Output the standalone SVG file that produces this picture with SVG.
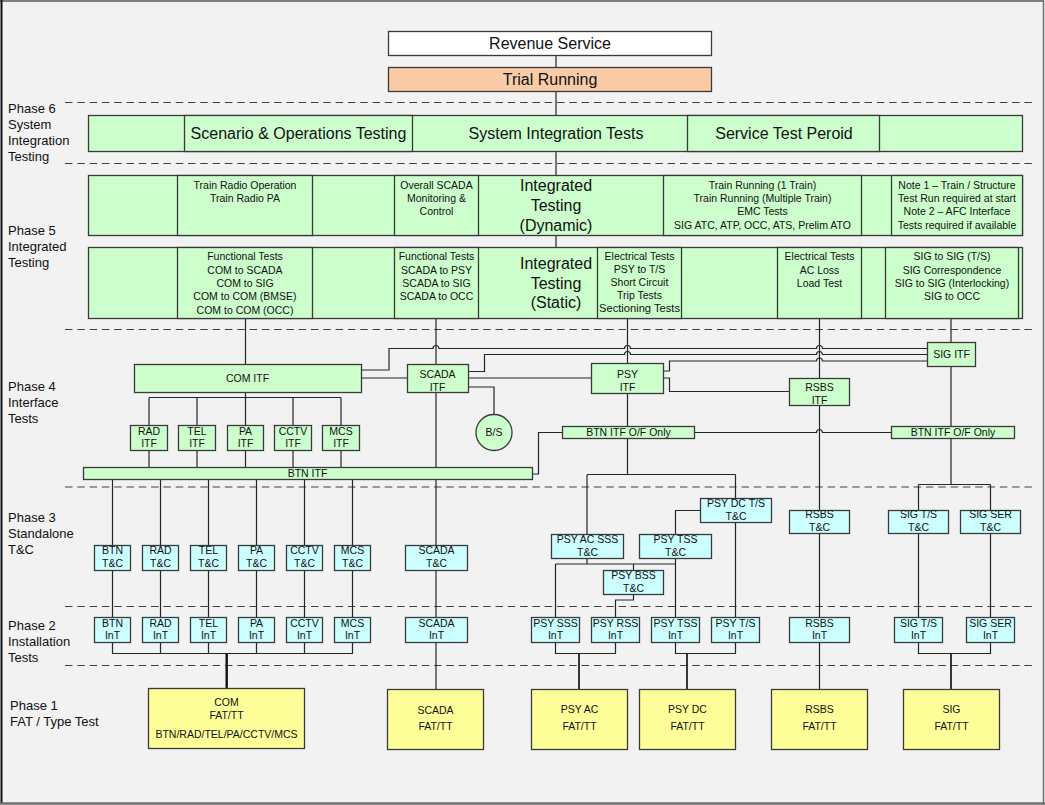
<svg xmlns="http://www.w3.org/2000/svg" width="1045" height="805" viewBox="0 0 1045 805">
<style>
.bg{fill:#f2f2f2}
.g{fill:#ccffcc;stroke:#3a3a3a;stroke-width:1.3}
.c{fill:#ccffff;stroke:#3a3a3a;stroke-width:1.3}
.y{fill:#ffff99;stroke:#3a3a3a;stroke-width:1.3}
.w{fill:#ffffff;stroke:#3a3a3a;stroke-width:1.3}
.o{fill:#f9cba6;stroke:#3a3a3a;stroke-width:1.3}
.ln{fill:none;stroke:#262626;stroke-width:1.2}
.tk{fill:none;stroke:#111;stroke-width:2.4}
.md{fill:none;stroke:#222;stroke-width:1.8}
.ds{fill:none;stroke:#404040;stroke-width:1.2;stroke-dasharray:7.5 4.8}
text{font-family:"Liberation Sans",Arial,sans-serif;fill:#111}
.s{font-size:10.5px;text-anchor:middle}
.l{font-size:16px;text-anchor:middle}
.p{font-size:13px}
</style>
<rect class="bg" x="0" y="0" width="1045" height="805"/>
<g id="frame">
<line x1="0" y1="1" x2="1044" y2="1" stroke="#7f7f7f" stroke-width="2"/>
<line x1="1.5" y1="0" x2="1.5" y2="804" stroke="#111" stroke-width="2"/>
<line x1="0" y1="803.5" x2="1045" y2="803.5" stroke="#6f6f6f" stroke-width="2.5"/>
<line x1="1043.5" y1="0" x2="1043.5" y2="805" stroke="#6f6f6f" stroke-width="1.5"/>
</g>
<g id="phase-labels" class="p">
<text x="8" y="112.5">Phase 6</text><text x="8" y="128.5">System</text><text x="8" y="144.5">Integration</text><text x="8" y="160.5">Testing</text>
<text x="8" y="235">Phase 5</text><text x="8" y="251">Integrated</text><text x="8" y="267">Testing</text>
<text x="8" y="391">Phase 4</text><text x="8" y="407">Interface</text><text x="8" y="422.5">Tests</text>
<text x="8" y="522">Phase 3</text><text x="8" y="538">Standalone</text><text x="8" y="554">T&amp;C</text>
<text x="8" y="630">Phase 2</text><text x="8" y="646">Installation</text><text x="8" y="662">Tests</text>
<text x="10" y="710">Phase 1</text><text x="10" y="726">FAT / Type Test</text>
</g>
<g id="dividers">
<line class="ds" x1="65" y1="102.5" x2="1033" y2="102.5"/>
<line class="ds" x1="65" y1="163.5" x2="1033" y2="163.5"/>
<line class="ds" x1="65" y1="329.5" x2="1033" y2="329.5"/>
<line class="ds" x1="65" y1="487" x2="1033" y2="487"/>
<line class="ds" x1="65" y1="606.5" x2="1033" y2="606.5"/>
<line class="ds" x1="65" y1="665.5" x2="1033" y2="665.5"/>
</g>
<g id="connectors">
<path class="ln" d="M556 55.5V67.5M556 91.5V115.5M556 151.5V175.5M556 235.5V247.5"/>
<path class="ln" d="M245.5 318.5V364.5M436 318.5V364.5M436 392.5V467.5M436 479.5V545.5M436 570.5V617.5M436 642.5V689.5"/>
<path class="ln" d="M627.5 318.5V363.5M627.5 393.5V426.5M627.5 438.5V474.5M587 474.5H735.5M587 474.5V534.5M735.5 474.5V498.5"/>
<path class="ln" d="M819.5 318.5V378.5M819.5 405.5V510.5M819.5 533.5V617.5M819.5 642.5V689.5"/>
<path class="ln" d="M951 318.5V342.5M951 366.5V426.5M951 438.5V484.5M918.5 484.5H990.5M918.5 484.5V510.5M990.5 484.5V510.5M918.5 533.5V617.5M990.5 533.5V617.5M918.5 642.5V653.5H990.5V642.5"/>
<path class="md" d="M951 653.5V689.5"/>
<path class="ln" d="M245.5 392.5V397.5M149 397.5H341M149 397.5V425.5M197 397.5V425.5M245.5 397.5V425.5M293 397.5V425.5M341 397.5V425.5"/>
<path class="ln" d="M149 450.5V467.5M197 450.5V467.5M245.5 450.5V467.5M293 450.5V467.5M341 450.5V467.5"/>
<path class="ln" d="M112.5 479.5V545.5M160.5 479.5V545.5M208.5 479.5V545.5M256.5 479.5V545.5M304.5 479.5V545.5M352.5 479.5V545.5"/>
<path class="ln" d="M112.5 570.5V617.5M160.5 570.5V617.5M208.5 570.5V617.5M256.5 570.5V617.5M304.5 570.5V617.5M352.5 570.5V617.5"/>
<path class="ln" d="M112.5 642.5V653.5H352.5V642.5M160.5 642.5V653.5M208.5 642.5V653.5M256.5 642.5V653.5M304.5 642.5V653.5"/>
<path class="tk" d="M226.7 653.5V688.5"/>
<path class="ln" d="M700.5 510.5H675.5V534.5M735.5 522.5V617.5M587 558.5V564M555.5 564H675.5M675.5 558.5V617.5M555.5 564V617.5M633.5 564V570.5M633.5 594.5V600H615.5V617.5"/>
<path class="ln" d="M555.5 642.5V653.5H615.5V642.5M675.5 642.5V653.5H735.5V642.5"/>
<path class="md" d="M579 653.5V689.5M687 653.5V689.5"/>
<path class="ln" d="M361.5 370H389V348.5H433a3 3 0 0 1 6 0H624.5a3 3 0 0 1 6 0H816.5a3 3 0 0 1 6 0H927.5"/>
<path class="ln" d="M468.5 371.5H484.5V354.5H624.5a3 3 0 0 1 6 0H816.5a3 3 0 0 1 6 0H927.5"/>
<path class="ln" d="M663.5 371H669.5V361H816.5a3 3 0 0 1 6 0H927.5"/>
<path class="ln" d="M361.5 378H407.5M468.5 378H591.5M663.5 378H669.5V391.5H789.5"/>
<path class="ln" d="M468.5 387H494V414.5"/>
<path class="ln" d="M532.5 474H538.5V432.5H562.5M694.5 432.5H816.5a3 3 0 0 1 6 0H891.5"/>
</g>
<g id="revenue-service"><rect class="w" x="388.5" y="31.5" width="323" height="24"/><text class="l" x="550" y="49">Revenue Service</text></g>
<g id="trial-running"><rect class="o" x="388.5" y="67.5" width="323" height="24"/><text class="l" x="550" y="85">Trial Running</text></g>
<g id="phase6">
<rect class="g" x="88.5" y="115.5" width="934" height="36"/>
<rect class="g" x="184.5" y="115.5" width="228" height="36"/>
<rect class="g" x="687.5" y="115.5" width="192" height="36"/>
<text class="l" x="298.5" y="139">Scenario &amp; Operations Testing</text>
<text class="l" x="556" y="139">System Integration Tests</text>
<text class="l" x="784" y="139">Service Test Peroid</text>
</g>
<g id="phase5-dynamic">
<rect class="g" x="88.5" y="175.5" width="934" height="60"/>
<rect class="g" x="177.5" y="175.5" width="135" height="60"/>
<rect class="g" x="394.5" y="175.5" width="84" height="60"/>
<rect class="g" x="663.5" y="175.5" width="198" height="60"/>
<rect class="g" x="891.5" y="175.5" width="131" height="60"/>
<text class="s" x="245" y="188.7">Train Radio Operation</text><text class="s" x="245" y="202">Train Radio PA</text>
<text class="s" x="436.5" y="188.7">Overall SCADA</text><text class="s" x="436.5" y="202">Monitoring &amp;</text><text class="s" x="436.5" y="215.3">Control</text>
<text class="l" x="556" y="190.5">Integrated</text><text class="l" x="556" y="210.5">Testing</text><text class="l" x="556" y="230.5">(Dynamic)</text>
<text class="s" x="762.5" y="188.7">Train Running (1 Train)</text><text class="s" x="762.5" y="202">Train Running (Multiple Train)</text><text class="s" x="762.5" y="215.3">EMC Tests</text><text class="s" x="762.5" y="228.6">SIG ATC, ATP, OCC, ATS, Prelim ATO</text>
<text class="s" x="957" y="188.7">Note 1 – Train / Structure</text><text class="s" x="957" y="202">Test Run required at start</text><text class="s" x="957" y="215.3">Note 2 – AFC Interface</text><text class="s" x="957" y="228.6">Tests required if available</text>
</g>
<g id="phase5-static">
<rect class="g" x="88.5" y="247.5" width="934" height="71"/>
<rect class="g" x="177.5" y="247.5" width="135" height="71"/>
<rect class="g" x="394.5" y="247.5" width="84" height="71"/>
<rect class="g" x="597.5" y="247.5" width="84" height="71"/>
<rect class="g" x="777.5" y="247.5" width="84" height="71"/>
<rect class="g" x="885.5" y="247.5" width="133" height="71"/>
<text class="s" x="245" y="260.4">Functional Tests</text><text class="s" x="245" y="273.7">COM to SCADA</text><text class="s" x="245" y="287">COM to SIG</text><text class="s" x="245" y="300.4">COM to COM (BMSE)</text><text class="s" x="245" y="313.7">COM to COM (OCC)</text>
<text class="s" x="436.5" y="260.4">Functional Tests</text><text class="s" x="436.5" y="273.7">SCADA to PSY</text><text class="s" x="436.5" y="287">SCADA to SIG</text><text class="s" x="436.5" y="300.4">SCADA to OCC</text>
<text class="l" x="556" y="269">Integrated</text><text class="l" x="556" y="289">Testing</text><text class="l" x="556" y="307.5">(Static)</text>
<text class="s" x="639.5" y="260.4">Electrical Tests</text><text class="s" x="639.5" y="273.4">PSY to T/S</text><text class="s" x="639.5" y="286.4">Short Circuit</text><text class="s" x="639.5" y="299.4">Trip Tests</text><text class="s" x="639.5" y="312.4" textLength="81" lengthAdjust="spacingAndGlyphs">Sectioning Tests</text>
<text class="s" x="819.5" y="260.4">Electrical Tests</text><text class="s" x="819.5" y="273.7">AC Loss</text><text class="s" x="819.5" y="287">Load Test</text>
<text class="s" x="952" y="260.4">SIG to SIG (T/S)</text><text class="s" x="952" y="273.7">SIG Correspondence</text><text class="s" x="952" y="287">SIG to SIG (Interlocking)</text><text class="s" x="952" y="300.4">SIG to OCC</text>
</g>
<g id="com-itf"><rect class="g" x="134.5" y="364.5" width="227" height="28"/><text class="s" x="247.5" y="382">COM ITF</text></g>
<g id="scada-itf"><rect class="g" x="407.5" y="364.5" width="61" height="28"/><text class="s" x="437.5" y="378">SCADA</text><text class="s" x="437.5" y="390.5">ITF</text></g>
<g id="psy-itf"><rect class="g" x="591.5" y="363.5" width="72" height="30"/><text class="s" x="627.5" y="378">PSY</text><text class="s" x="627.5" y="390.5">ITF</text></g>
<g id="rsbs-itf"><rect class="g" x="789.5" y="378.5" width="60" height="27"/><text class="s" x="819.5" y="391">RSBS</text><text class="s" x="819.5" y="403.7">ITF</text></g>
<g id="sig-itf"><rect class="g" x="927.5" y="342.5" width="48" height="24"/><text class="s" x="951.5" y="358">SIG ITF</text></g>
<g id="bs"><circle class="g" cx="494" cy="432.5" r="18"/><text class="s" x="494" y="436.2">B/S</text></g>
<g id="rad-itf"><rect class="g" x="130.5" y="425.5" width="37" height="25"/><text class="s" x="149" y="434.7">RAD</text><text class="s" x="149" y="447">ITF</text></g>
<g id="tel-itf"><rect class="g" x="178.5" y="425.5" width="37" height="25"/><text class="s" x="197" y="434.7">TEL</text><text class="s" x="197" y="447">ITF</text></g>
<g id="pa-itf"><rect class="g" x="227.5" y="425.5" width="36" height="25"/><text class="s" x="245.5" y="434.7">PA</text><text class="s" x="245.5" y="447">ITF</text></g>
<g id="cctv-itf"><rect class="g" x="274.5" y="425.5" width="37" height="25"/><text class="s" x="293" y="434.7">CCTV</text><text class="s" x="293" y="447">ITF</text></g>
<g id="mcs-itf"><rect class="g" x="322.5" y="425.5" width="37" height="25"/><text class="s" x="341" y="434.7">MCS</text><text class="s" x="341" y="447">ITF</text></g>
<g id="btn-itf"><rect class="g" x="83.5" y="467.5" width="449" height="12"/><text class="s" x="307.5" y="477.2">BTN ITF</text></g>
<g id="btn-itf-of-1"><rect class="g" x="562.5" y="426.5" width="132" height="12"/><text class="s" x="628.5" y="436.2">BTN ITF O/F Only</text></g>
<g id="btn-itf-of-2"><rect class="g" x="891.5" y="426.5" width="123" height="12"/><text class="s" x="953" y="436.2">BTN ITF O/F Only</text></g>
<g id="btn-tc"><rect class="c" x="94.5" y="545.5" width="36" height="25"/><text class="s" x="112.5" y="554">BTN</text><text class="s" x="112.5" y="566.5">T&amp;C</text></g>
<g id="rad-tc"><rect class="c" x="142.5" y="545.5" width="36" height="25"/><text class="s" x="160.5" y="554">RAD</text><text class="s" x="160.5" y="566.5">T&amp;C</text></g>
<g id="tel-tc"><rect class="c" x="190.5" y="545.5" width="36" height="25"/><text class="s" x="208.5" y="554">TEL</text><text class="s" x="208.5" y="566.5">T&amp;C</text></g>
<g id="pa-tc"><rect class="c" x="238.5" y="545.5" width="36" height="25"/><text class="s" x="256.5" y="554">PA</text><text class="s" x="256.5" y="566.5">T&amp;C</text></g>
<g id="cctv-tc"><rect class="c" x="286.5" y="545.5" width="36" height="25"/><text class="s" x="304.5" y="554">CCTV</text><text class="s" x="304.5" y="566.5">T&amp;C</text></g>
<g id="mcs-tc"><rect class="c" x="334.5" y="545.5" width="36" height="25"/><text class="s" x="352.5" y="554">MCS</text><text class="s" x="352.5" y="566.5">T&amp;C</text></g>
<g id="scada-tc"><rect class="c" x="405.5" y="545.5" width="62" height="25"/><text class="s" x="436.5" y="554">SCADA</text><text class="s" x="436.5" y="566.5">T&amp;C</text></g>
<g id="psy-dc-ts-tc"><rect class="c" x="700.5" y="498.5" width="71" height="24"/><text class="s" x="736" y="507">PSY DC T/S</text><text class="s" x="736" y="519.7">T&amp;C</text></g>
<g id="psy-ac-sss-tc"><rect class="c" x="551.5" y="534.5" width="72" height="24"/><text class="s" x="587.5" y="543">PSY AC SSS</text><text class="s" x="587.5" y="555.7">T&amp;C</text></g>
<g id="psy-tss-tc"><rect class="c" x="639.5" y="534.5" width="72" height="24"/><text class="s" x="675.5" y="543">PSY TSS</text><text class="s" x="675.5" y="555.7">T&amp;C</text></g>
<g id="psy-bss-tc"><rect class="c" x="603.5" y="570.5" width="60" height="24"/><text class="s" x="633.5" y="579.4">PSY BSS</text><text class="s" x="633.5" y="592">T&amp;C</text></g>
<g id="rsbs-tc"><rect class="c" x="789.5" y="510.5" width="60" height="23"/><text class="s" x="819.5" y="518.4">RSBS</text><text class="s" x="819.5" y="531">T&amp;C</text></g>
<g id="sig-ts-tc"><rect class="c" x="888.5" y="510.5" width="60" height="23"/><text class="s" x="918.5" y="518.4">SIG T/S</text><text class="s" x="918.5" y="531">T&amp;C</text></g>
<g id="sig-ser-tc"><rect class="c" x="960.5" y="510.5" width="60" height="23"/><text class="s" x="990.5" y="518.4">SIG SER</text><text class="s" x="990.5" y="531">T&amp;C</text></g>
<g id="btn-int"><rect class="c" x="94.5" y="617.5" width="36" height="25"/><text class="s" x="112.5" y="627">BTN</text><text class="s" x="112.5" y="639.4">InT</text></g>
<g id="rad-int"><rect class="c" x="142.5" y="617.5" width="36" height="25"/><text class="s" x="160.5" y="627">RAD</text><text class="s" x="160.5" y="639.4">InT</text></g>
<g id="tel-int"><rect class="c" x="190.5" y="617.5" width="36" height="25"/><text class="s" x="208.5" y="627">TEL</text><text class="s" x="208.5" y="639.4">InT</text></g>
<g id="pa-int"><rect class="c" x="238.5" y="617.5" width="36" height="25"/><text class="s" x="256.5" y="627">PA</text><text class="s" x="256.5" y="639.4">InT</text></g>
<g id="cctv-int"><rect class="c" x="286.5" y="617.5" width="36" height="25"/><text class="s" x="304.5" y="627">CCTV</text><text class="s" x="304.5" y="639.4">InT</text></g>
<g id="mcs-int"><rect class="c" x="334.5" y="617.5" width="36" height="25"/><text class="s" x="352.5" y="627">MCS</text><text class="s" x="352.5" y="639.4">InT</text></g>
<g id="scada-int"><rect class="c" x="405.5" y="617.5" width="62" height="25"/><text class="s" x="436.5" y="627">SCADA</text><text class="s" x="436.5" y="639.4">InT</text></g>
<g id="psy-sss-int"><rect class="c" x="531.5" y="617.5" width="48" height="25"/><text class="s" x="555.5" y="627">PSY SSS</text><text class="s" x="555.5" y="639.4">InT</text></g>
<g id="psy-rss-int"><rect class="c" x="591.5" y="617.5" width="48" height="25"/><text class="s" x="615.5" y="627">PSY RSS</text><text class="s" x="615.5" y="639.4">InT</text></g>
<g id="psy-tss-int"><rect class="c" x="651.5" y="617.5" width="48" height="25"/><text class="s" x="675.5" y="627">PSY TSS</text><text class="s" x="675.5" y="639.4">InT</text></g>
<g id="psy-ts-int"><rect class="c" x="711.5" y="617.5" width="48" height="25"/><text class="s" x="735.5" y="627">PSY T/S</text><text class="s" x="735.5" y="639.4">InT</text></g>
<g id="rsbs-int"><rect class="c" x="789.5" y="617.5" width="60" height="25"/><text class="s" x="819.5" y="627">RSBS</text><text class="s" x="819.5" y="639.4">InT</text></g>
<g id="sig-ts-int"><rect class="c" x="894.5" y="617.5" width="48" height="25"/><text class="s" x="918.5" y="627">SIG T/S</text><text class="s" x="918.5" y="639.4">InT</text></g>
<g id="sig-ser-int"><rect class="c" x="966.5" y="617.5" width="48" height="25"/><text class="s" x="990.5" y="627">SIG SER</text><text class="s" x="990.5" y="639.4">InT</text></g>
<g id="com-fat"><rect class="y" x="148.5" y="688.5" width="156" height="60"/><text class="s" x="226.5" y="705.7">COM</text><text class="s" x="226.5" y="718.7">FAT/TT</text><text class="s" x="226.5" y="737.7">BTN/RAD/TEL/PA/CCTV/MCS</text></g>
<g id="scada-fat"><rect class="y" x="387.5" y="689.5" width="96" height="60"/><text class="s" x="435.5" y="714.4">SCADA</text><text class="s" x="435.5" y="730.4">FAT/TT</text></g>
<g id="psy-ac-fat"><rect class="y" x="531.5" y="689.5" width="96" height="60"/><text class="s" x="579.5" y="712.7">PSY AC</text><text class="s" x="579.5" y="730.4">FAT/TT</text></g>
<g id="psy-dc-fat"><rect class="y" x="639.5" y="689.5" width="96" height="60"/><text class="s" x="687.5" y="712.7">PSY DC</text><text class="s" x="687.5" y="730.4">FAT/TT</text></g>
<g id="rsbs-fat"><rect class="y" x="771.5" y="689.5" width="96" height="60"/><text class="s" x="819.5" y="712.7">RSBS</text><text class="s" x="819.5" y="730.4">FAT/TT</text></g>
<g id="sig-fat"><rect class="y" x="903.5" y="689.5" width="96" height="60"/><text class="s" x="951.5" y="712.7">SIG</text><text class="s" x="951.5" y="730.4">FAT/TT</text></g>
</svg>
